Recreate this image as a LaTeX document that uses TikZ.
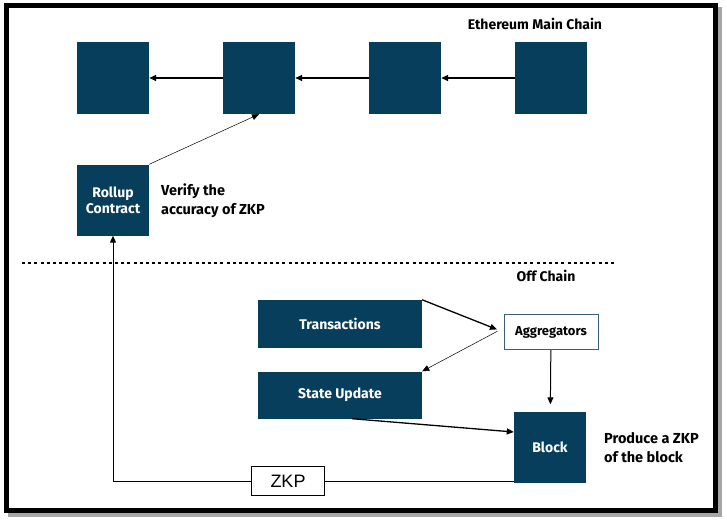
\documentclass[tikz,border=0pt]{standalone}
\usepackage{fontspec}
\setmainfont{Fira Sans}
\newfontfamily\zkpfont{Liberation Sans}
\usepackage{tikz}
\usetikzlibrary{arrows.meta,positioning}

\definecolor{chainblue}{RGB}{7,62,92}
\definecolor{aggline}{RGB}{60,95,120}

\tikzset{
  blk/.style={fill=chainblue,minimum width=72pt,minimum height=72pt,
    text=white,font=\bfseries\fontsize{14}{17}\selectfont,align=center,inner sep=0pt},
  wide/.style={blk,minimum width=164pt,minimum height=48pt},
  note/.style={font=\fontsize{14.5}{19}\selectfont\bfseries,align=left,inner sep=0pt},
}

\begin{document}
\begin{tikzpicture}[x=1pt,y=-1pt,node distance=146pt,on grid,>={Triangle[length=7pt,width=6pt]}]
   \useasboundingbox (0,0) rectangle (727,524);
   % frame with shadow
   \draw[line width=5pt,black!35] (10,10) rectangle (719,514);
   \draw[line width=5pt,fill=white] (6,6) rectangle (715,510);

   % main chain
   \node[blk] (b1) at (113,78) {};
   \node[blk] (b2) [right=of b1] {};
   \node[blk] (b3) [right=of b2] {};
   \node[blk] (b4) [right=of b3] {};
   \node[note,font=\fontsize{14}{17}\selectfont\bfseries] (eth) at (535,24) {Ethereum Main Chain};
   \path[->,line width=1.3pt]
    (b2) edge (b1)
    (b3) edge (b2)
    (b4) edge (b3);

   \node[blk,minimum height=71pt] (rollup) at (113,200) {Rollup\\[-1pt]Contract};
   \node[note,anchor=west] (verify) at (161,201) {Verify the\\accuracy of ZKP};
   \draw[->,line width=0.5pt] (rollup.north east) -- (b2.south);

   % chain border
   \coordinate (dl) at (22,263);
   \coordinate (dr) at (615,263);
   \draw[line width=2.2pt,dash pattern=on 3pt off 3.2pt] (dl) -- (dr);
   \node[note,font=\fontsize{14}{17}\selectfont\bfseries] (off) at (546,276) {Off Chain};

   % off chain
   \node[wide] (trans) at (340,324) {Transactions};
   \node[wide,minimum height=47pt] (state) at (340,395) {State Update};
   \node[draw=aggline,line width=1pt,minimum width=94pt,minimum height=35pt,inner sep=0pt,
     font=\bfseries\fontsize{13}{15}\selectfont] (agg) at (551,332) {Aggregators};
   \node[blk,minimum height=71pt] (block) at (550,447) {Block};
   \node[note,anchor=west] (produce) at (604,448) {Produce a ZKP\\of the block};
   \node[draw,line width=1pt,fill=white,minimum width=73pt,minimum height=29pt,
     font=\zkpfont\fontsize{18}{20}\selectfont] (zkp) at (288,481) {ZKP};

   \draw[->,line width=1.3pt,shorten >=7pt] (trans.north east) -- (agg.west);
   \draw[->,line width=0.5pt,shorten <=7pt] ([yshift=4pt]agg.west) -- (state.north east);
   \draw[->,line width=1pt,shorten >=7pt] (agg) -- (block);
   \draw[->,line width=1.3pt] ([xshift=12pt]state.south) -- ([yshift=15pt]block.west);

   \coordinate (corner) at (rollup |- zkp);
   \draw[line width=1pt] (block.west |- zkp) -- (zkp.east);
   \draw[->,line width=1pt] (zkp.west) -- (corner) -- (rollup.south);
\end{tikzpicture}
\end{document}
